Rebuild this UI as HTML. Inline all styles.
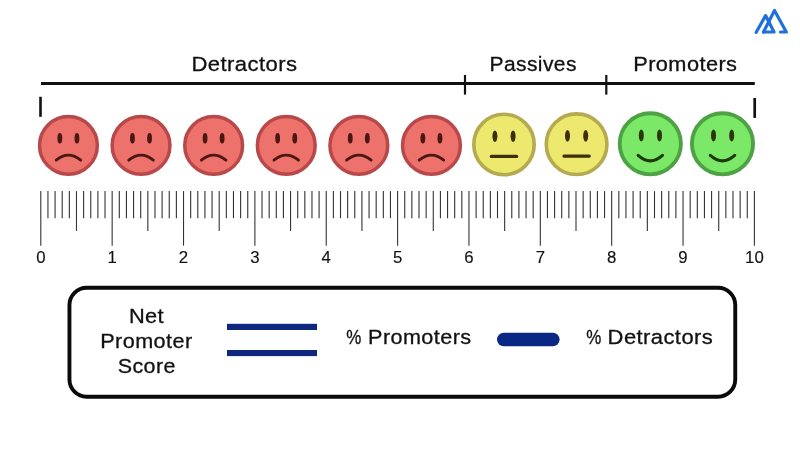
<!DOCTYPE html>
<html><head><meta charset="utf-8"><title>Net Promoter Score</title>
<style>
html,body{margin:0;padding:0;background:#fff;}
body{width:800px;height:450px;overflow:hidden;}
svg{display:block;font-family:"Liberation Sans",sans-serif;}
.lbl{font-size:20.5px;fill:#111;letter-spacing:0.4px;stroke:#111;stroke-width:0.3px;}
.num{font-size:16.8px;fill:#111;stroke:#111;stroke-width:0.15px;}
</style></head><body>
<svg width="800" height="450" viewBox="0 0 800 450">
<rect width="800" height="450" fill="#fff"/>
<!-- logo -->
<g fill="none" stroke="#1f6fdc" stroke-width="3.2" stroke-linecap="round" stroke-linejoin="round">
<path d="M763.5 32 L774.5 10.5 L786.3 32 L780.5 32"/>
<path d="M756.2 32.3 L765.6 15.6 L774 32 L763.5 32"/>
</g>
<!-- bracket -->
<g stroke="#111" fill="none">
<line x1="41" y1="83.4" x2="754.8" y2="83.4" stroke-width="3"/>
<line x1="465" y1="75" x2="465" y2="94.6" stroke-width="2.2"/>
<line x1="606.3" y1="75" x2="606.3" y2="94.6" stroke-width="2.2"/>
<line x1="40.5" y1="96.8" x2="40.5" y2="116.8" stroke-width="2.6"/>
<line x1="754.7" y1="98" x2="754.7" y2="117.9" stroke-width="2.7"/>
</g>
<g class="lbl">
<text id="t1" x="191.4" y="70.5" textLength="106" lengthAdjust="spacingAndGlyphs">Detractors</text>
<text id="t2" x="489.6" y="70.5" textLength="87.2" lengthAdjust="spacingAndGlyphs">Passives</text>
<text id="t3" x="633.2" y="70.5" textLength="104.2" lengthAdjust="spacingAndGlyphs">Promoters</text>
</g>
<!-- faces -->
<g transform="translate(68.45,145.4)"><circle r="28.9" fill="#ed726c" stroke="#b8484a" stroke-width="3.5"/>
<ellipse cx="-8.6" cy="-7.2" rx="2.4" ry="5.3" fill="#4a1712"/><ellipse cx="8.5" cy="-7.2" rx="2.4" ry="5.3" fill="#4a1712"/>
<path d="M-12.3 14.8 Q0 4.6 12.3 14.8" fill="none" stroke="#4a1712" stroke-width="2.8" stroke-linecap="round"/></g>
<g transform="translate(141.05,145.4)"><circle r="28.9" fill="#ed726c" stroke="#b8484a" stroke-width="3.5"/>
<ellipse cx="-8.6" cy="-7.2" rx="2.4" ry="5.3" fill="#4a1712"/><ellipse cx="8.5" cy="-7.2" rx="2.4" ry="5.3" fill="#4a1712"/>
<path d="M-12.3 14.8 Q0 4.6 12.3 14.8" fill="none" stroke="#4a1712" stroke-width="2.8" stroke-linecap="round"/></g>
<g transform="translate(213.64999999999998,145.4)"><circle r="28.9" fill="#ed726c" stroke="#b8484a" stroke-width="3.5"/>
<ellipse cx="-8.6" cy="-7.2" rx="2.4" ry="5.3" fill="#4a1712"/><ellipse cx="8.5" cy="-7.2" rx="2.4" ry="5.3" fill="#4a1712"/>
<path d="M-12.3 14.8 Q0 4.6 12.3 14.8" fill="none" stroke="#4a1712" stroke-width="2.8" stroke-linecap="round"/></g>
<g transform="translate(286.25,145.4)"><circle r="28.9" fill="#ed726c" stroke="#b8484a" stroke-width="3.5"/>
<ellipse cx="-8.6" cy="-7.2" rx="2.4" ry="5.3" fill="#4a1712"/><ellipse cx="8.5" cy="-7.2" rx="2.4" ry="5.3" fill="#4a1712"/>
<path d="M-12.3 14.8 Q0 4.6 12.3 14.8" fill="none" stroke="#4a1712" stroke-width="2.8" stroke-linecap="round"/></g>
<g transform="translate(358.84999999999997,145.4)"><circle r="28.9" fill="#ed726c" stroke="#b8484a" stroke-width="3.5"/>
<ellipse cx="-8.6" cy="-7.2" rx="2.4" ry="5.3" fill="#4a1712"/><ellipse cx="8.5" cy="-7.2" rx="2.4" ry="5.3" fill="#4a1712"/>
<path d="M-12.3 14.8 Q0 4.6 12.3 14.8" fill="none" stroke="#4a1712" stroke-width="2.8" stroke-linecap="round"/></g>
<g transform="translate(431.45,145.4)"><circle r="28.9" fill="#ed726c" stroke="#b8484a" stroke-width="3.5"/>
<ellipse cx="-8.6" cy="-7.2" rx="2.4" ry="5.3" fill="#4a1712"/><ellipse cx="8.5" cy="-7.2" rx="2.4" ry="5.3" fill="#4a1712"/>
<path d="M-12.3 14.8 Q0 4.6 12.3 14.8" fill="none" stroke="#4a1712" stroke-width="2.8" stroke-linecap="round"/></g>
<g transform="translate(504,144.5)"><circle r="30.2" fill="#ece96e" stroke="#b6aa50" stroke-width="3.6"/>
<ellipse cx="-9.1" cy="-8.3" rx="2.5" ry="5.8" fill="#3d2f08"/><ellipse cx="9.1" cy="-8.3" rx="2.5" ry="5.8" fill="#3d2f08"/>
<path d="M-12.7 11.9 H12.7" fill="none" stroke="#3d2f08" stroke-width="3.1" stroke-linecap="round"/></g>
<g transform="translate(576.6,144.2)"><circle r="30.35" fill="#ece96e" stroke="#b6aa50" stroke-width="3.6"/>
<ellipse cx="-9.1" cy="-8.3" rx="2.5" ry="5.8" fill="#3d2f08"/><ellipse cx="9.1" cy="-8.3" rx="2.5" ry="5.8" fill="#3d2f08"/>
<path d="M-12.7 11.9 H12.7" fill="none" stroke="#3d2f08" stroke-width="3.1" stroke-linecap="round"/></g>
<g transform="translate(650.3,143.8)"><circle r="30.6" fill="#7ce868" stroke="#4da244" stroke-width="3.9"/>
<ellipse cx="-9.0" cy="-8.2" rx="2.5" ry="6" fill="#2c3608"/><ellipse cx="9.2" cy="-8.2" rx="2.5" ry="6" fill="#2c3608"/>
<path d="M-12.2 11.6 Q0 22.5 12.2 11.6" fill="none" stroke="#1f3a08" stroke-width="3.1" stroke-linecap="round"/></g>
<g transform="translate(722.5,143.8)"><circle r="30.6" fill="#7ce868" stroke="#4da244" stroke-width="3.9"/>
<ellipse cx="-9.0" cy="-8.2" rx="2.5" ry="6" fill="#2c3608"/><ellipse cx="9.2" cy="-8.2" rx="2.5" ry="6" fill="#2c3608"/>
<path d="M-12.2 11.6 Q0 22.5 12.2 11.6" fill="none" stroke="#1f3a08" stroke-width="3.1" stroke-linecap="round"/></g>
<!-- ruler -->
<g stroke="#333" stroke-width="1.1">
<line x1="40.80" y1="191.1" x2="40.80" y2="245.7"/>
<line x1="47.94" y1="191.1" x2="47.94" y2="218.2"/>
<line x1="55.07" y1="191.1" x2="55.07" y2="218.2"/>
<line x1="62.21" y1="191.1" x2="62.21" y2="218.2"/>
<line x1="69.34" y1="191.1" x2="69.34" y2="218.2"/>
<line x1="76.48" y1="191.1" x2="76.48" y2="230.9"/>
<line x1="83.62" y1="191.1" x2="83.62" y2="218.2"/>
<line x1="90.75" y1="191.1" x2="90.75" y2="218.2"/>
<line x1="97.89" y1="191.1" x2="97.89" y2="218.2"/>
<line x1="105.02" y1="191.1" x2="105.02" y2="218.2"/>
<line x1="112.16" y1="191.1" x2="112.16" y2="245.7"/>
<line x1="119.30" y1="191.1" x2="119.30" y2="218.2"/>
<line x1="126.43" y1="191.1" x2="126.43" y2="218.2"/>
<line x1="133.57" y1="191.1" x2="133.57" y2="218.2"/>
<line x1="140.70" y1="191.1" x2="140.70" y2="218.2"/>
<line x1="147.84" y1="191.1" x2="147.84" y2="230.9"/>
<line x1="154.98" y1="191.1" x2="154.98" y2="218.2"/>
<line x1="162.11" y1="191.1" x2="162.11" y2="218.2"/>
<line x1="169.25" y1="191.1" x2="169.25" y2="218.2"/>
<line x1="176.38" y1="191.1" x2="176.38" y2="218.2"/>
<line x1="183.52" y1="191.1" x2="183.52" y2="245.7"/>
<line x1="190.66" y1="191.1" x2="190.66" y2="218.2"/>
<line x1="197.79" y1="191.1" x2="197.79" y2="218.2"/>
<line x1="204.93" y1="191.1" x2="204.93" y2="218.2"/>
<line x1="212.06" y1="191.1" x2="212.06" y2="218.2"/>
<line x1="219.20" y1="191.1" x2="219.20" y2="230.9"/>
<line x1="226.34" y1="191.1" x2="226.34" y2="218.2"/>
<line x1="233.47" y1="191.1" x2="233.47" y2="218.2"/>
<line x1="240.61" y1="191.1" x2="240.61" y2="218.2"/>
<line x1="247.74" y1="191.1" x2="247.74" y2="218.2"/>
<line x1="254.88" y1="191.1" x2="254.88" y2="245.7"/>
<line x1="262.02" y1="191.1" x2="262.02" y2="218.2"/>
<line x1="269.15" y1="191.1" x2="269.15" y2="218.2"/>
<line x1="276.29" y1="191.1" x2="276.29" y2="218.2"/>
<line x1="283.42" y1="191.1" x2="283.42" y2="218.2"/>
<line x1="290.56" y1="191.1" x2="290.56" y2="230.9"/>
<line x1="297.70" y1="191.1" x2="297.70" y2="218.2"/>
<line x1="304.83" y1="191.1" x2="304.83" y2="218.2"/>
<line x1="311.97" y1="191.1" x2="311.97" y2="218.2"/>
<line x1="319.10" y1="191.1" x2="319.10" y2="218.2"/>
<line x1="326.24" y1="191.1" x2="326.24" y2="245.7"/>
<line x1="333.38" y1="191.1" x2="333.38" y2="218.2"/>
<line x1="340.51" y1="191.1" x2="340.51" y2="218.2"/>
<line x1="347.65" y1="191.1" x2="347.65" y2="218.2"/>
<line x1="354.78" y1="191.1" x2="354.78" y2="218.2"/>
<line x1="361.92" y1="191.1" x2="361.92" y2="230.9"/>
<line x1="369.06" y1="191.1" x2="369.06" y2="218.2"/>
<line x1="376.19" y1="191.1" x2="376.19" y2="218.2"/>
<line x1="383.33" y1="191.1" x2="383.33" y2="218.2"/>
<line x1="390.46" y1="191.1" x2="390.46" y2="218.2"/>
<line x1="397.60" y1="191.1" x2="397.60" y2="245.7"/>
<line x1="404.74" y1="191.1" x2="404.74" y2="218.2"/>
<line x1="411.87" y1="191.1" x2="411.87" y2="218.2"/>
<line x1="419.01" y1="191.1" x2="419.01" y2="218.2"/>
<line x1="426.14" y1="191.1" x2="426.14" y2="218.2"/>
<line x1="433.28" y1="191.1" x2="433.28" y2="230.9"/>
<line x1="440.42" y1="191.1" x2="440.42" y2="218.2"/>
<line x1="447.55" y1="191.1" x2="447.55" y2="218.2"/>
<line x1="454.69" y1="191.1" x2="454.69" y2="218.2"/>
<line x1="461.82" y1="191.1" x2="461.82" y2="218.2"/>
<line x1="468.96" y1="191.1" x2="468.96" y2="245.7"/>
<line x1="476.10" y1="191.1" x2="476.10" y2="218.2"/>
<line x1="483.23" y1="191.1" x2="483.23" y2="218.2"/>
<line x1="490.37" y1="191.1" x2="490.37" y2="218.2"/>
<line x1="497.50" y1="191.1" x2="497.50" y2="218.2"/>
<line x1="504.64" y1="191.1" x2="504.64" y2="230.9"/>
<line x1="511.78" y1="191.1" x2="511.78" y2="218.2"/>
<line x1="518.91" y1="191.1" x2="518.91" y2="218.2"/>
<line x1="526.05" y1="191.1" x2="526.05" y2="218.2"/>
<line x1="533.18" y1="191.1" x2="533.18" y2="218.2"/>
<line x1="540.32" y1="191.1" x2="540.32" y2="245.7"/>
<line x1="547.46" y1="191.1" x2="547.46" y2="218.2"/>
<line x1="554.59" y1="191.1" x2="554.59" y2="218.2"/>
<line x1="561.73" y1="191.1" x2="561.73" y2="218.2"/>
<line x1="568.86" y1="191.1" x2="568.86" y2="218.2"/>
<line x1="576.00" y1="191.1" x2="576.00" y2="230.9"/>
<line x1="583.14" y1="191.1" x2="583.14" y2="218.2"/>
<line x1="590.27" y1="191.1" x2="590.27" y2="218.2"/>
<line x1="597.41" y1="191.1" x2="597.41" y2="218.2"/>
<line x1="604.54" y1="191.1" x2="604.54" y2="218.2"/>
<line x1="611.68" y1="191.1" x2="611.68" y2="245.7"/>
<line x1="618.82" y1="191.1" x2="618.82" y2="218.2"/>
<line x1="625.95" y1="191.1" x2="625.95" y2="218.2"/>
<line x1="633.09" y1="191.1" x2="633.09" y2="218.2"/>
<line x1="640.22" y1="191.1" x2="640.22" y2="218.2"/>
<line x1="647.36" y1="191.1" x2="647.36" y2="230.9"/>
<line x1="654.50" y1="191.1" x2="654.50" y2="218.2"/>
<line x1="661.63" y1="191.1" x2="661.63" y2="218.2"/>
<line x1="668.77" y1="191.1" x2="668.77" y2="218.2"/>
<line x1="675.90" y1="191.1" x2="675.90" y2="218.2"/>
<line x1="683.04" y1="191.1" x2="683.04" y2="245.7"/>
<line x1="690.18" y1="191.1" x2="690.18" y2="218.2"/>
<line x1="697.31" y1="191.1" x2="697.31" y2="218.2"/>
<line x1="704.45" y1="191.1" x2="704.45" y2="218.2"/>
<line x1="711.58" y1="191.1" x2="711.58" y2="218.2"/>
<line x1="718.72" y1="191.1" x2="718.72" y2="230.9"/>
<line x1="725.86" y1="191.1" x2="725.86" y2="218.2"/>
<line x1="732.99" y1="191.1" x2="732.99" y2="218.2"/>
<line x1="740.13" y1="191.1" x2="740.13" y2="218.2"/>
<line x1="747.26" y1="191.1" x2="747.26" y2="218.2"/>
<line x1="754.40" y1="191.1" x2="754.40" y2="245.7"/>
</g>
<g class="num">
<text x="40.80" y="262.5" text-anchor="middle">0</text>
<text x="112.16" y="262.5" text-anchor="middle">1</text>
<text x="183.52" y="262.5" text-anchor="middle">2</text>
<text x="254.88" y="262.5" text-anchor="middle">3</text>
<text x="326.24" y="262.5" text-anchor="middle">4</text>
<text x="397.60" y="262.5" text-anchor="middle">5</text>
<text x="468.96" y="262.5" text-anchor="middle">6</text>
<text x="540.32" y="262.5" text-anchor="middle">7</text>
<text x="611.68" y="262.5" text-anchor="middle">8</text>
<text x="683.04" y="262.5" text-anchor="middle">9</text>
<text x="754.40" y="262.5" text-anchor="middle">10</text>
</g>
<!-- formula box -->
<rect x="69.45" y="287.75" width="665.8" height="109" rx="17.2" ry="17.2" fill="#fff" stroke="#0a0a0a" stroke-width="3.9"/>
<g class="lbl">
<text x="128.9" y="322.7" textLength="35.2" lengthAdjust="spacingAndGlyphs">Net</text>
<text x="100.2" y="347.9" textLength="92.4" lengthAdjust="spacingAndGlyphs">Promoter</text>
<text x="117.7" y="373" textLength="58.2" lengthAdjust="spacingAndGlyphs">Score</text>
<text y="343.7"><tspan x="346.2" textLength="15.4" lengthAdjust="spacingAndGlyphs">%</tspan> <tspan x="368.1" textLength="103.4" lengthAdjust="spacingAndGlyphs">Promoters</tspan></text>
<text y="343.7"><tspan x="586.2" textLength="15.4" lengthAdjust="spacingAndGlyphs">%</tspan> <tspan x="607.6" textLength="105.6" lengthAdjust="spacingAndGlyphs">Detractors</tspan></text>
</g>
<rect x="227" y="323.8" width="90" height="6.2" fill="#10277f"/>
<rect x="227" y="350" width="90" height="6.1" fill="#10277f"/>
<rect x="497" y="332.8" width="62.6" height="13.5" rx="6.75" fill="#0a2786"/>
</svg>
</body></html>
